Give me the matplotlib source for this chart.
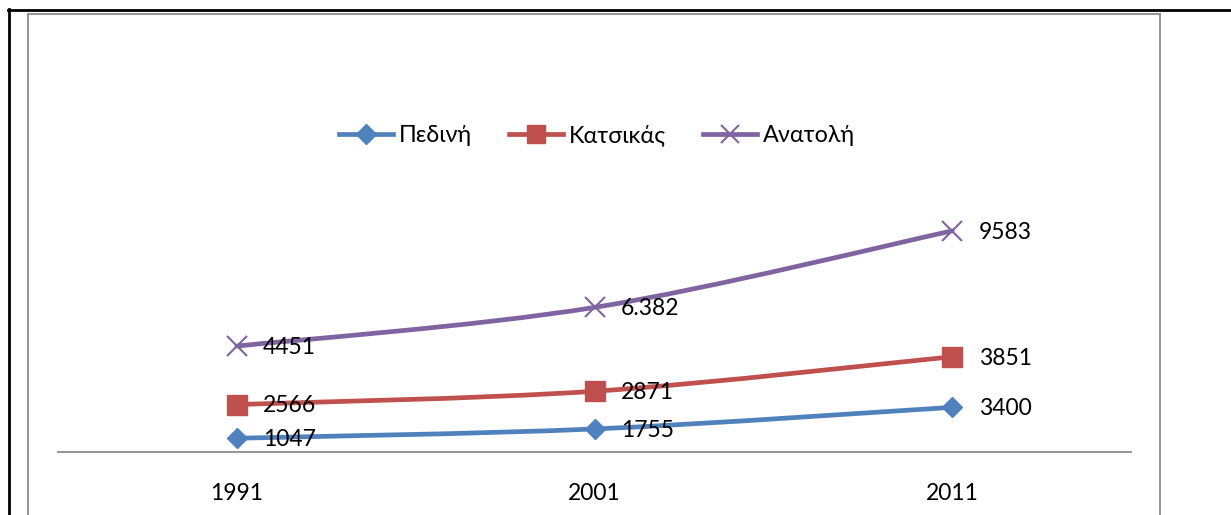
import matplotlib
matplotlib.use("Agg")
import matplotlib.pyplot as plt
from matplotlib.path import Path
from matplotlib.patches import PathPatch
from matplotlib.lines import Line2D
import numpy as np

years = ["1991", "2001", "2011"]
series_names = ["Πεδινή", "Κατσικάς", "Ανατολή"]
pedini = [1047, 1755, 3400]
katsikas = [2566, 2871, 3851]
anatoli = [4451, 6382, 9583]
label_texts = [["1047", "1755", "3400"],
               ["2566", "2871", "3851"],
               ["4451", "6.382", "9583"]]

colors = ["#4F81BD", "#C0504D", "#8064A2"]
markers = ["D", "s", "x"]
msizes = [10.5, 14, 14]

plt.rcParams['font.family'] = ['Lato', 'DejaVu Sans']

W, H = 1231, 515
fig = plt.figure(figsize=(W / 100, H / 100), dpi=100)

def fx(px):
    return px / W

def fy(py):
    return 1 - py / H

# axes: x from 58 to 1131 px, y zero at 452 px
ax = fig.add_axes([fx(58), fy(452), fx(1131) - fx(58), fy(186) - fy(452)])
ax.set_xlim(-0.5, 2.5)
ax.set_ylim(0, 20250)
for s in ["top", "right", "left"]:
    ax.spines[s].set_visible(False)
ax.spines["bottom"].set_color("#8c8c8c")
ax.spines["bottom"].set_linewidth(1.3)
ax.set_yticks([])
ax.set_xticks(range(len(years)))
ax.set_xticklabels(years, fontsize=16.5)
ax.tick_params(axis="x", length=0, pad=22)

x = np.arange(len(years), dtype=float)
stack = np.cumsum(np.array([pedini, katsikas, anatoli], dtype=float), axis=0)


def smooth_path(xs, ys):
    pts = np.column_stack([xs, ys])
    n = len(pts)
    verts = [pts[0]]
    codes = [Path.MOVETO]
    for i in range(n - 1):
        p0 = pts[max(i - 1, 0)]
        p1 = pts[i]
        p2 = pts[i + 1]
        p3 = pts[min(i + 2, n - 1)]
        c1 = p1 + (p2 - p0) / 6.0
        c2 = p2 - (p3 - p1) / 6.0
        verts += [c1, c2, p2]
        codes += [Path.CURVE4] * 3
    return Path(verts, codes)


handles = []
for k in range(3):
    ys = stack[k]
    patch = PathPatch(smooth_path(x, ys), fill=False, edgecolor=colors[k],
                      linewidth=3.4, capstyle="round", zorder=2)
    ax.add_patch(patch)
    mew = 1.5 if markers[k] == "x" else 1
    ax.plot(x, ys, linestyle="none", marker=markers[k], markersize=msizes[k],
            color=colors[k], markeredgewidth=mew, zorder=3, clip_on=False)
    for i in range(len(x)):
        ax.annotate(label_texts[k][i], (x[i], ys[i]), xytext=(19, -1),
                    textcoords="offset points", ha="left", va="center",
                    fontsize=16.5, color="black", zorder=4)
    handles.append(Line2D([], [], color=colors[k], linewidth=3.4,
                          marker=markers[k], markersize=msizes[k] * 0.95,
                          markeredgewidth=mew))

fig.legend(handles, series_names, loc="center", bbox_to_anchor=(fx(597), fy(135)),
           ncol=3, frameon=False, fontsize=16.8, handlelength=2.3,
           handletextpad=0.25, columnspacing=1.6)

# borders
def hline(y, x0, x1, color, lw):
    fig.add_artist(Line2D([fx(x0), fx(x1)], [fy(y), fy(y)], color=color,
                          linewidth=lw, transform=fig.transFigure))

def vline(xp, y0, y1, color, lw):
    fig.add_artist(Line2D([fx(xp), fx(xp)], [fy(y0), fy(y1)], color=color,
                          linewidth=lw, transform=fig.transFigure))

hline(10, 8, 1231, "black", 2.0)
vline(9, 9, 515, "black", 2.0)
hline(13.5, 28, 1160, "#8c8c8c", 1.3)
vline(28, 13.5, 515, "#8c8c8c", 1.3)
vline(1160, 13.5, 515, "#8c8c8c", 1.3)

fig.savefig("out.png", dpi=100)
